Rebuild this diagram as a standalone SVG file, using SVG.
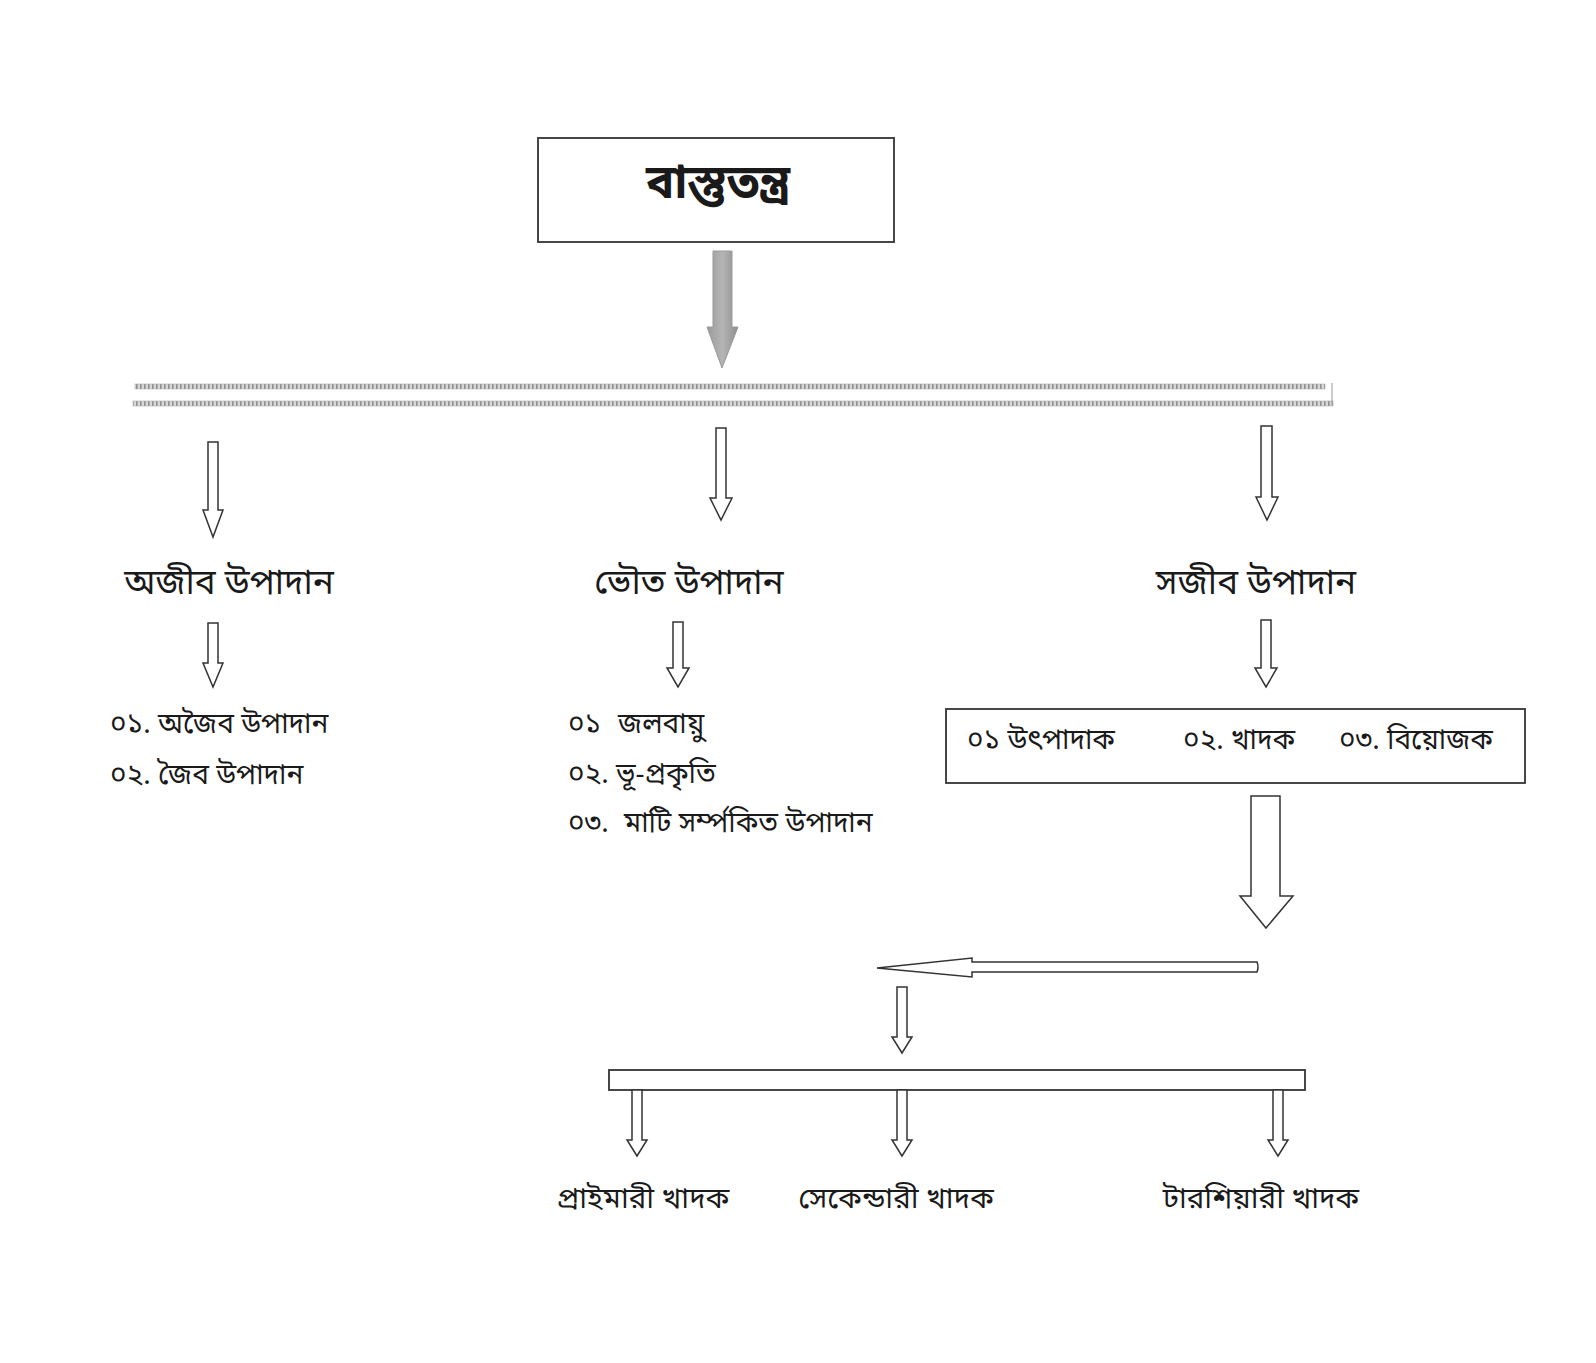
<svg xmlns="http://www.w3.org/2000/svg" width="1596" height="1363" viewBox="0 0 1596 1363">
<style>
text{font-family:"Noto Sans Bengali","Lohit Bengali","Noto Sans",sans-serif;fill:#1a1a1a}
.title{font-size:47px;font-weight:bold}
.lbl{font-size:35px}
.item{font-size:28px}
.leaf{font-size:29.5px}
.harrow{fill:#fff;stroke:#333;stroke-width:1.5;stroke-linejoin:miter}
.box{fill:#fff;stroke:#333;stroke-width:1.8}
.strip{stroke:#b0b0b0;stroke-width:0.6}
</style>
<defs>
<linearGradient id="gray" x1="0" x2="1" y1="0" y2="0">
<stop offset="0" stop-color="#9a9a9a"/><stop offset="0.5" stop-color="#b5b5b5"/><stop offset="1" stop-color="#8e8e8e"/>
</linearGradient>
<pattern id="ticks" width="4" height="6" patternUnits="userSpaceOnUse">
<rect width="4" height="6" fill="#d9d9d9"/><rect x="0" y="0" width="1.6" height="6" fill="#8f8f8f"/>
</pattern>
</defs>
<rect width="1596" height="1363" fill="#fff"/>

<g id="connectors">
<path d="M713,251 L732,251 L732,327 L738,327 L722,368 L707,327 L713,327 Z" fill="url(#gray)" stroke="#999" stroke-width="1"/>
<g id="split-bar">
<rect class="strip" x="135" y="384" width="1190" height="5" fill="url(#ticks)"/>
<rect class="strip" x="133" y="401" width="1200" height="5" fill="url(#ticks)"/>
<line x1="1332" y1="383" x2="1332" y2="405" stroke="#999" stroke-width="1"/>
</g>
<path class="harrow" d="M208,442 L218,442 L218,510 L223,510 L213,537 L203,510 L208,510 Z"/>
<path class="harrow" d="M716,428 L726,428 L726,498 L732,498 L721,520 L710,498 L716,498 Z"/>
<path class="harrow" d="M1261,426 L1272,426 L1272,497 L1278,497 L1267,520 L1256,497 L1261,497 Z"/>
<path class="harrow" d="M208,623 L218,623 L218,663 L223,663 L213,687 L203,663 L208,663 Z"/>
<path class="harrow" d="M673,622 L683,622 L683,668 L689,668 L678,687 L667,668 L673,668 Z"/>
<path class="harrow" d="M1261,620 L1271,620 L1271,668 L1277,668 L1266,687 L1255,668 L1261,668 Z"/>
<path class="harrow" d="M1251,796 L1280,796 L1280,896 L1293,896 L1266,928 L1240,896 L1251,896 Z"/>
<path class="harrow" d="M1257,962 L972,962 L972,958 L877,968 L972,977 L972,972 L1257,972 Q1259,967 1257,962 Z"/>
<path class="harrow" d="M897,987 L907,987 L907,1037 L912,1037 L902,1053 L892,1037 L897,1037 Z"/>
<rect class="box" x="609" y="1070" width="696" height="20" fill="#fafafa"/>
<path class="harrow" d="M632,1090 L642,1090 L642,1140 L647,1140 L637,1156 L627,1140 L632,1140 Z"/>
<path class="harrow" d="M897,1090 L907,1090 L907,1140 L912,1140 L902,1156 L892,1140 L897,1140 Z"/>
<path class="harrow" d="M1273,1090 L1283,1090 L1283,1140 L1288,1140 L1278,1156 L1268,1140 L1273,1140 Z"/>
</g>

<g id="node-root">
<rect class="box" x="538" y="138" width="356" height="104"/>
<text class="title" x="718" y="198" text-anchor="middle">বাস্তুতন্ত্র</text>
</g>

<g id="node-abiotic">
<text class="lbl" x="229" y="594" text-anchor="middle">অজীব উপাদান</text>
</g>
<g id="node-abiotic-items">
<text class="item" x="110" y="733">০১. অজৈব উপাদান</text>
<text class="item" x="110" y="784">০২. জৈব উপাদান</text>
</g>

<g id="node-physical">
<text class="lbl" x="689" y="594" text-anchor="middle">ভৌত উপাদান</text>
</g>
<g id="node-physical-items">
<text class="item" x="568" y="733">০১<tspan x="618">জলবায়ু</tspan></text>
<text class="item" x="568" y="783">০২. ভূ-প্রকৃতি</text>
<text class="item" x="568" y="832">০৩.<tspan x="624">মাটি সর্ম্পকিত উপাদান</tspan></text>
</g>

<g id="node-biotic">
<text class="lbl" x="1256" y="594" text-anchor="middle">সজীব উপাদান</text>
</g>
<g id="node-biotic-items">
<rect class="box" x="946" y="709" width="579" height="74"/>
<text class="item" x="967" y="749">০১ উৎপাদাক</text>
<text class="item" x="1183" y="749">০২. খাদক</text>
<text class="item" x="1339" y="749">০৩. বিয়োজক</text>
</g>

<g id="node-primary"><text class="leaf" x="643" y="1208" text-anchor="middle">প্রাইমারী খাদক</text></g>
<g id="node-secondary"><text class="leaf" x="896" y="1208" text-anchor="middle">সেকেন্ডারী খাদক</text></g>
<g id="node-tertiary"><text class="leaf" x="1261" y="1208" text-anchor="middle">টারশিয়ারী খাদক</text></g>
</svg>
